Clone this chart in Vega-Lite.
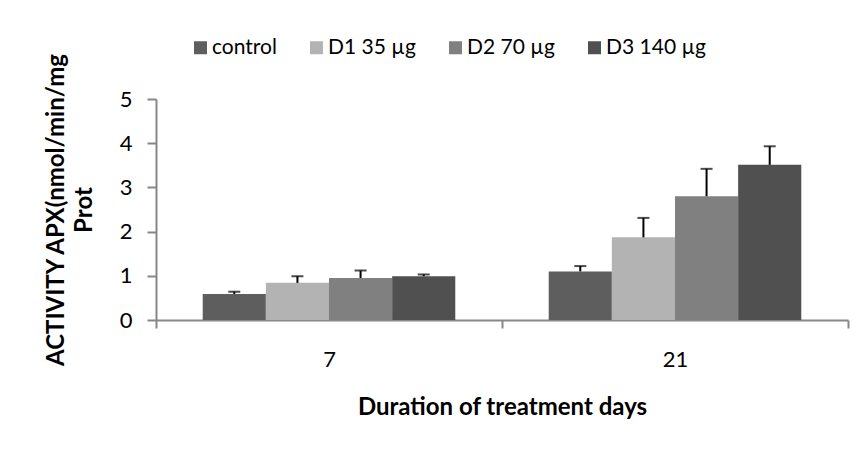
{
  "$schema": "https://vega.github.io/schema/vega-lite/v6.json",
  "autosize": "none",
  "width": 692,
  "height": 221,
  "padding": {"left": 156, "top": 99, "right": 14, "bottom": 129},
  "background": "white",
  "config": {
    "font": "Lato",
    "view": {"stroke": null},
    "axis": {"labelFont": "Lato", "titleFont": "Lato", "labelColor": "#000000", "titleColor": "#000000"}
  },
  "data": {
    "values": [
      {"day": "7", "group": "control", "mean": 0.59, "upper": 0.64},
      {"day": "7", "group": "D1 35 µg", "mean": 0.84, "upper": 0.99},
      {"day": "7", "group": "D2 70 µg", "mean": 0.95, "upper": 1.12},
      {"day": "7", "group": "D3 140 µg", "mean": 0.99, "upper": 1.03},
      {"day": "21", "group": "control", "mean": 1.10, "upper": 1.22},
      {"day": "21", "group": "D1 35 µg", "mean": 1.87, "upper": 2.31},
      {"day": "21", "group": "D2 70 µg", "mean": 2.80, "upper": 3.42},
      {"day": "21", "group": "D3 140 µg", "mean": 3.51, "upper": 3.93}
    ]
  },
  "encoding": {
    "x": {
      "field": "day", "type": "nominal", "sort": ["7", "21"],
      "scale": {"paddingInner": 0, "paddingOuter": 0},
      "axis": {
        "title": "Duration of treatment days",
        "labelAngle": 0, "labelFontSize": 22, "labelPadding": 21,
        "titleFontSize": 24, "titleFontWeight": "bold", "titlePadding": 25,
        "domainColor": "#878787", "domainWidth": 2,
        "tickColor": "#878787", "tickWidth": 2, "tickSize": 8, "tickBand": "extent"
      }
    },
    "xOffset": {
      "field": "group", "type": "nominal",
      "sort": ["control", "D1 35 µg", "D2 70 µg", "D3 140 µg"],
      "scale": {"paddingInner": 0, "paddingOuter": 0.74}
    }
  },
  "layer": [
    {
      "mark": {"type": "bar"},
      "encoding": {
        "y": {
          "field": "mean", "type": "quantitative",
          "scale": {"domain": [0, 5], "nice": false},
          "axis": {
            "title": ["ACTIVITY APX(nmol/min/mg", "Prot"],
            "values": [0, 1, 2, 3, 4, 5],
            "grid": false, "labelFontSize": 22, "labelPadding": 15,
            "titleFontSize": 24, "titleFontWeight": "bold", "titlePadding": 23,
            "titleLineHeight": 28,
            "domainColor": "#878787", "domainWidth": 2,
            "tickColor": "#878787", "tickWidth": 2, "tickSize": 9
          }
        },
        "color": {
          "field": "group", "type": "nominal",
          "sort": ["control", "D1 35 µg", "D2 70 µg", "D3 140 µg"],
          "scale": {"domain": ["control", "D1 35 µg", "D2 70 µg", "D3 140 µg"], "range": ["#5e5e5e", "#b3b3b3", "#808080", "#505050"]},
          "legend": {
            "orient": "none", "legendX": 34, "legendY": -62,
            "direction": "horizontal", "title": null,
            "symbolType": "square", "symbolSize": 169, "symbolStrokeWidth": 0,
            "labelFontSize": 21, "labelFont": "Lato", "labelColor": "#000000",
            "labelOffset": 1, "columnPadding": 29
          }
        }
      }
    },
    {
      "mark": {"type": "rule", "color": "#000000", "strokeWidth": 2},
      "encoding": {
        "y": {"field": "mean", "type": "quantitative"},
        "y2": {"field": "upper"}
      }
    },
    {
      "mark": {"type": "tick", "color": "#000000", "thickness": 2, "size": 12, "orient": "horizontal"},
      "encoding": {
        "y": {"field": "upper", "type": "quantitative"}
      }
    }
  ]
}
